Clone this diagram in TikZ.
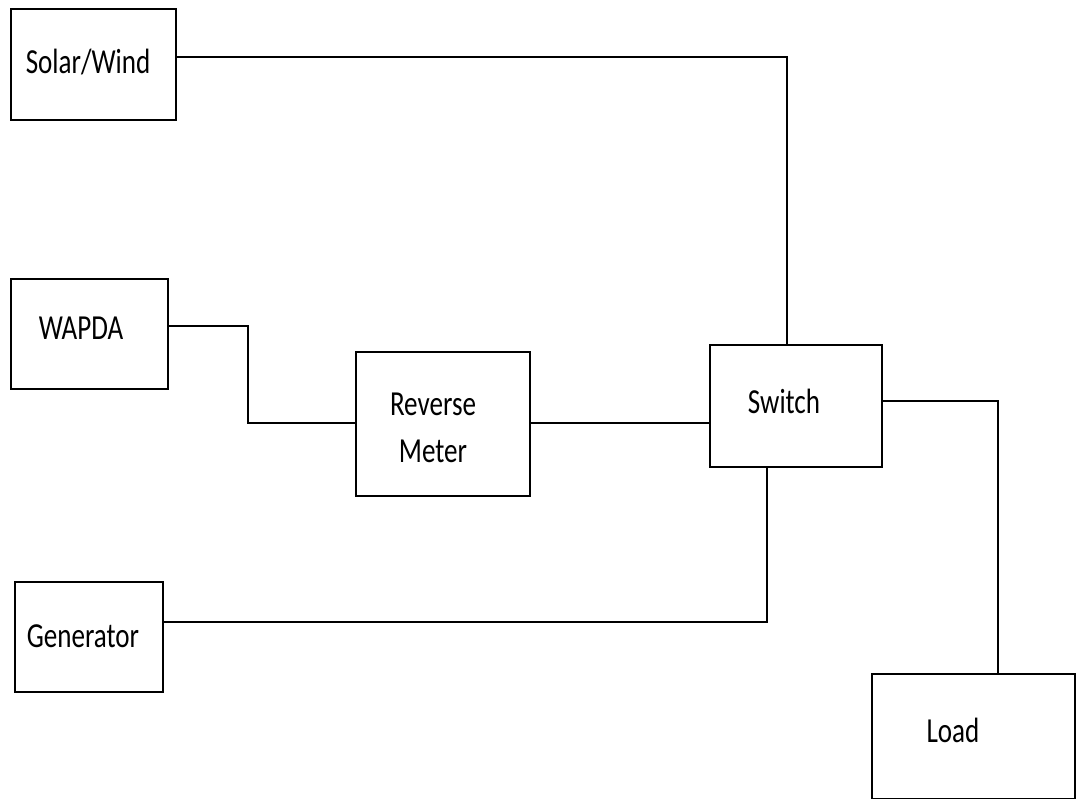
\documentclass[tikz,border=0pt]{standalone}
\usepackage{fontspec}
\newfontfamily\boxfont[FakeStretch=0.77]{Carlito}

\begin{document}
\begin{tikzpicture}[x=0.025cm,y=-0.025cm,line width=0.9pt,
      blk/.style={draw,inner sep=0pt},
      txt/.style={font=\boxfont\fontsize{25}{34}\selectfont,align=center}]
  \useasboundingbox (0,0) rectangle (1080,799);
  % blocks
  \node[blk,minimum width=4.125cm,minimum height=2.775cm,
        label={[txt,xshift=-3.9pt,yshift=1.8pt]center:Solar/Wind}] (solar) at (93.5,64.5) {};
  \node[blk,minimum width=3.925cm,minimum height=2.75cm,
        label={[txt,xshift=-6pt,yshift=4.3pt]center:WAPDA}] (wapda) at (89.5,334) {};
  \node[blk,minimum width=4.35cm,minimum height=3.6cm,
        label={[txt,xshift=-7.1pt,yshift=-2.8pt]center:Reverse\\Meter}] (meter) at (443,424) {};
  \node[blk,minimum width=4.3cm,minimum height=3.05cm,
        label={[txt,xshift=-8.5pt,yshift=3.6pt]center:Switch}] (switch) at (796,406) {};
  \node[blk,minimum width=3.7cm,minimum height=2.75cm,
        label={[txt,xshift=-4.3pt,yshift=0.7pt]center:Generator}] (gen) at (89,637) {};
  \node[blk,minimum width=5.075cm,minimum height=3.125cm,
        label={[txt,xshift=-14.6pt,yshift=4.3pt]center:Load}] (load) at (973.5,736.5) {};
  % wiring
  \draw (solar.east |- 0,57) -| (switch.north -| 787,0);
  \draw (wapda.east |- 0,326) -- (248,326) |- (meter.west |- 0,423);
  \draw (meter.east |- 0,423) -- (switch.west |- 0,423);
  \draw (gen.east |- 0,622) -| (switch.south -| 767,0);
  \draw (switch.east |- 0,401) -| (load.north -| 998,0);
\end{tikzpicture}
\end{document}
